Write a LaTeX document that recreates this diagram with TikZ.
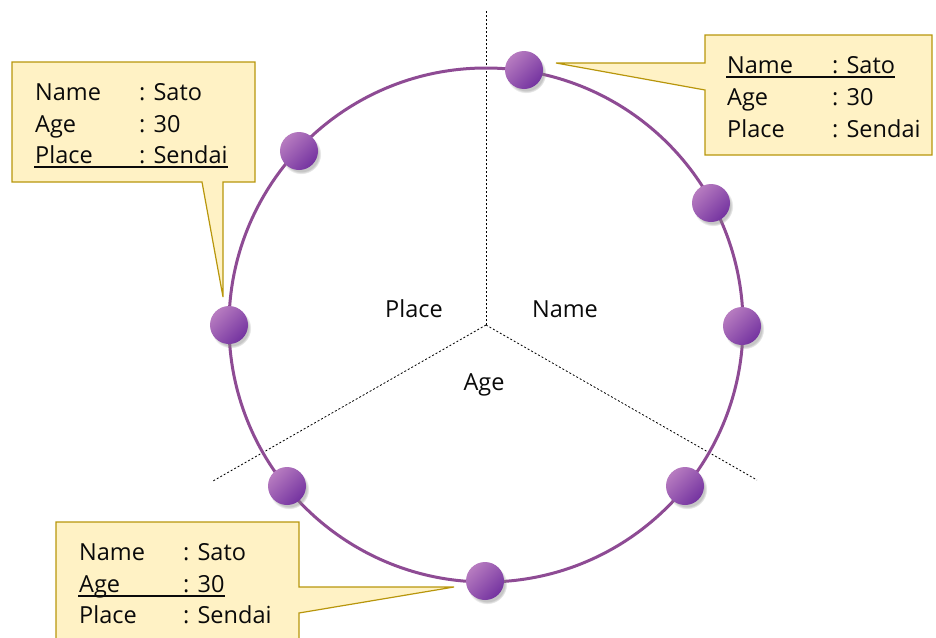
\documentclass[tikz,border=0pt]{standalone}
\usepackage{fontspec}
\setmainfont{Open Sans}
\usetikzlibrary{shadows,calc}
\definecolor{ring}{HTML}{8E4B94}
\definecolor{ballhi}{HTML}{B77CC0}
\definecolor{balllo}{HTML}{7433A0}
\definecolor{callfill}{HTML}{FFF2C5}
\definecolor{calldraw}{HTML}{B8960C}
\definecolor{ink}{HTML}{0A0A0A}
\begin{document}
\begin{tikzpicture}[x=1pt,y=-1pt,
  font=\fontsize{23.5}{28}\selectfont, text=ink,
  ball/.style={circle, minimum size=38pt, inner sep=0pt,
    top color=ballhi, bottom color=balllo, shading angle=45,
    circular drop shadow={shadow xshift=2pt, shadow yshift=-3pt, opacity=0.45, shadow scale=1.06}},
  callout/.style={fill=callfill, draw=calldraw, line width=1.2pt, line join=miter},
  row/.style={anchor=base west, inner sep=0pt},
  lbl/.style={anchor=base, inner sep=0pt},
  divider/.style={dash pattern=on 2pt off 2pt, line width=0.8pt, draw=black},
  uline/.style={line width=1.3pt, draw=ink},
  ringline/.style={draw=ring, line width=3pt}]
\useasboundingbox (0,0) rectangle (936,637);

% centre and dividers
\coordinate (c) at (486,325);
\coordinate (dN) at (486,10);
\coordinate (dL) at (213,481);
\coordinate (dR) at (757,480);
\draw[divider] (c) -- (dN);
\draw[divider] (c) -- (dL);
\draw[divider] (c) -- (dR);

% ring
\draw[ringline] (c) circle[radius=257];

% sector labels
\node[lbl] (lPlace) at (414,317) {Place};
\node[lbl] (lName) at (565,317) {Name};
\node[lbl] (lAge) at (484,390) {Age};

% callouts
\coordinate (tipTL) at (223,297);
\coordinate (tipTR) at (556,63);
\coordinate (tipB) at (454,587);
\path[callout] (12,62) -- (255,62) -- (255,182) -- (223,182) -- (tipTL) -- (202,182) -- (12,182) -- cycle;
\path[callout] (705,35) -- (932,35) -- (932,155) -- (705,155) -- (705,90) -- (tipTR) -- (705,63) -- cycle;
\path[callout] (56,522) -- (299,522) -- (299,587) -- (tipB) -- (299,613) -- (299,650) -- (56,650) -- cycle;

% balls
\node[ball] (b1) at (524,70) {};
\node[ball] (b2) at (711,203) {};
\node[ball] (b3) at (742,326) {};
\node[ball] (b4) at (685,486) {};
\node[ball] (b5) at (485,581) {};
\node[ball] (b6) at (287,486) {};
\node[ball] (b7) at (229,325) {};
\node[ball] (b8) at (299,151) {};

% top-left callout text
\node[row] (tlk1) at (35,100) {Name};
\node[row] (tlv1) at (139,100) {: Sato};
\node[row] (tlk2) at (35,132) {Age};
\node[row] (tlv2) at (139,132) {: 30};
\node[row] (tlk3) at (35,163) {Place};
\node[row] (tlv3) at (139,163) {: Sendai};
\draw[uline] ($(tlk3.base west)+(-1,4)$) -- ($(tlv3.base east)+(0,4)$);

% top-right callout text
\node[row] (trk1) at (727,73) {Name};
\node[row] (trv1) at (832,73) {: Sato};
\node[row] (trk2) at (727,105) {Age};
\node[row] (trv2) at (832,105) {: 30};
\node[row] (trk3) at (727,137) {Place};
\node[row] (trv3) at (832,137) {: Sendai};
\draw[uline] ($(trk1.base west)+(-1,4)$) -- ($(trv1.base east)+(0,4)$);

% bottom callout text
\node[row] (bk1) at (79,560) {Name};
\node[row] (bv1) at (183,560) {: Sato};
\node[row] (bk2) at (79,592) {Age};
\node[row] (bv2) at (183,592) {: 30};
\node[row] (bk3) at (79,623) {Place};
\node[row] (bv3) at (183,623) {: Sendai};
\draw[uline] ($(bk2.base west)+(-1,4)$) -- ($(bv2.base east)+(0,4)$);
\end{tikzpicture}
\end{document}
